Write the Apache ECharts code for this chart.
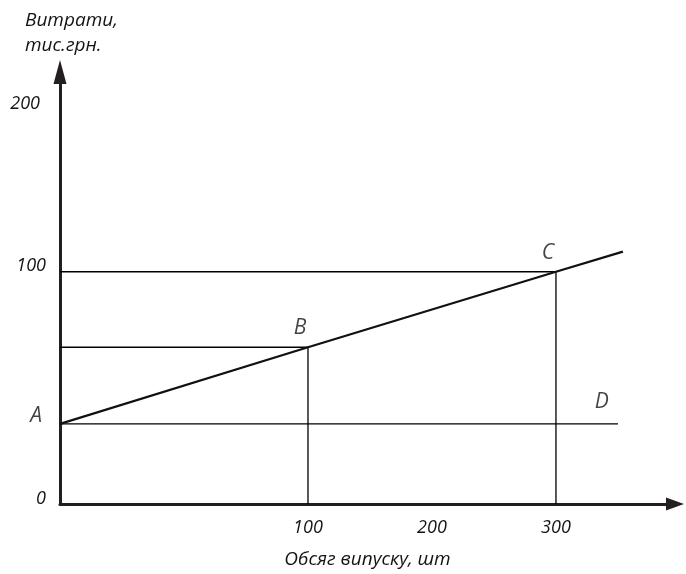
<!DOCTYPE html>
<html>
<head>
<meta charset="utf-8">
<script src="https://cdn.jsdelivr.net/npm/echarts@6/dist/echarts.min.js"></script>
<style>
html,body{margin:0;padding:0;background:#fff;}
#c{width:686px;height:574px;}
</style>
</head>
<body>
<div id="c"></div>
<script>
// Schematic cost diagram (positions in chart units)
const xTickPos = [100, 150, 200];
const xTickLabels = ['100', '200', '300'];
const yTickPos = [0, 100, 170];
const yTickLabels = ['0', '100', '200'];

// total cost line A -> B -> C -> end
const costX = [0, 100, 200, 227];
const costY = [34.5, 67.5, 100, 108.7];

// guide lines [x1, y1, x2, y2]
const guideC_h = [0, 100, 200, 100];
const guideB_h = [0, 67.5, 100, 67.5];
const guideAD_h = [0, 34.5, 225, 34.5];
const guideB_v = [100, 0, 100, 67.5];
const guideC_v = [200, 0, 200, 100];

// point labels
const pointNames = ['A', 'B', 'C', 'D'];
const pointX = [0, 100, 200, 218.5];
const pointY = [34.5, 67.5, 100, 34.5];

const FONT = '"Open Sans", "DejaVu Sans", sans-serif';
const TXT = '#161314';
const chart = echarts.init(document.getElementById('c'));

const guides = [guideC_h, guideB_h, guideAD_h, guideB_v, guideC_v].map(g => ({
  type: 'line',
  data: [[g[0], g[1]], [g[2], g[3]]],
  symbol: 'none',
  silent: true,
  lineStyle: { color: '#000', width: 1.3 },
  z: 2
}));

const labelCfg = [
  { position: 'left', distance: 18, offset: [0, -8] },
  { position: 'top', distance: 9, offset: [-8, 0] },
  { position: 'top', distance: 8, offset: [-8, 0] },
  { position: 'top', distance: 11, offset: [0, 0] }
];

chart.setOption({
  animation: false,
  backgroundColor: '#fff',
  title: {
    text: 'Витрати,\nтис.грн.',
    left: 20,
    top: 3,
    textStyle: { fontFamily: FONT, fontStyle: 'italic', fontWeight: 'normal', fontSize: 19, color: TXT, lineHeight: 25 }
  },
  grid: { left: 60, right: 11, top: 72, bottom: 69, containLabel: false },
  xAxis: {
    type: 'value',
    min: 0,
    max: 248,
    interval: 50,
    name: 'Обсяг випуску, шт',
    nameLocation: 'middle',
    nameGap: 46,
    nameTextStyle: { fontFamily: FONT, fontStyle: 'italic', fontSize: 19, color: TXT },
    axisLine: { show: true, symbol: ['none', 'triangle'], symbolSize: [13, 18], lineStyle: { color: '#231f20', width: 3 } },
    axisTick: { show: false },
    splitLine: { show: false },
    axisLabel: {
      margin: 15,
      fontFamily: FONT, fontStyle: 'italic', fontSize: 18, color: TXT,
      showMaxLabel: false,
      formatter: v => { const i = xTickPos.indexOf(v); return i >= 0 ? xTickLabels[i] : ''; }
    }
  },
  yAxis: {
    type: 'value',
    min: 0,
    max: 186,
    interval: 10,
    axisLine: { show: true, symbol: ['none', 'triangle'], symbolSize: [13, 24], lineStyle: { color: '#231f20', width: 3 } },
    axisTick: { show: false },
    splitLine: { show: false },
    axisLabel: {
      margin: 14,
      fontFamily: FONT, fontStyle: 'italic', fontSize: 18, color: TXT,
      verticalAlign: 'middle',
      showMaxLabel: false,
      formatter: v => {
        const i = yTickPos.indexOf(v);
        if (i < 0) return '';
        return i === 2 ? '{s|' + yTickLabels[i] + '}' : yTickLabels[i];
      },
      rich: { s: { fontFamily: FONT, fontStyle: 'italic', fontSize: 18, color: TXT, padding: [0, 6, 0, 0] } },
      padding: [0, 0, 11, 0]
    }
  },
  series: guides.concat([
    {
      type: 'line',
      data: costX.map((x, i) => [x, costY[i]]),
      symbol: 'none',
      silent: true,
      lineStyle: { color: '#111', width: 2.3 },
      z: 3
    },
    {
      type: 'scatter',
      symbolSize: 0,
      silent: true,
      z: 4,
      data: pointNames.map((n, i) => ({
        name: n,
        value: [pointX[i], pointY[i]],
        label: Object.assign({
          show: true,
          formatter: n,
          fontFamily: FONT, fontStyle: 'italic', fontSize: 21, color: TXT
        }, labelCfg[i])
      }))
    }
  ])
});
</script>
</body>
</html>
